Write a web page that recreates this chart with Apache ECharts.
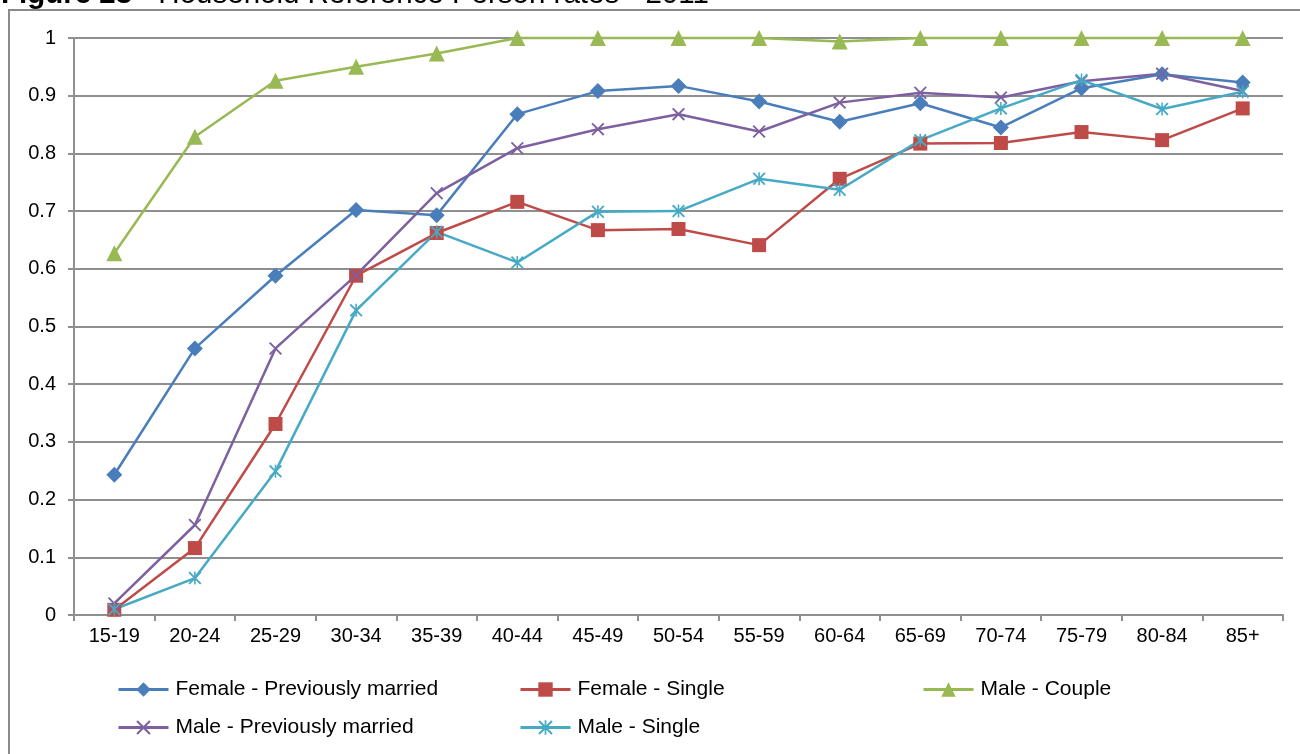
<!DOCTYPE html>
<html>
<head>
<meta charset="utf-8">
<script src="https://cdn.jsdelivr.net/npm/echarts@6/dist/echarts.min.js"></script>
<style>
  html, body { margin: 0; padding: 0; background: #fff; }
  #chart { width: 1300px; height: 754px; }
</style>
</head>
<body>
<div id="chart"></div>
<script>
// Age bands on the category axis
const ageBands = ['15-19','20-24','25-29','30-34','35-39','40-44','45-49','50-54','55-59','60-64','65-69','70-74','75-79','80-84','85+'];

// Household reference person rates by age band
const femalePrevMarried = [0.243, 0.462, 0.588, 0.702, 0.693, 0.868, 0.908, 0.917, 0.890, 0.855, 0.887, 0.845, 0.913, 0.937, 0.923];
const femaleSingle      = [0.009, 0.116, 0.331, 0.588, 0.662, 0.716, 0.667, 0.669, 0.641, 0.756, 0.817, 0.818, 0.837, 0.823, 0.878];
const maleCouple        = [0.627, 0.829, 0.926, 0.950, 0.973, 1.000, 1.000, 1.000, 1.000, 0.994, 1.000, 1.000, 1.000, 1.000, 1.000];
const malePrevMarried   = [0.020, 0.156, 0.462, 0.589, 0.731, 0.809, 0.842, 0.868, 0.838, 0.888, 0.905, 0.897, 0.925, 0.938, 0.908];
const maleSingle        = [0.010, 0.064, 0.249, 0.528, 0.664, 0.611, 0.699, 0.700, 0.756, 0.737, 0.823, 0.878, 0.927, 0.877, 0.907];

const seriesNames = ['Female - Previously married', 'Female - Single', 'Male - Couple', 'Male - Previously married', 'Male - Single'];

// Filled outlines for the cross and asterisk markers
const crossPath = 'path://M0,1 L1,0 L5,4 L9,0 L10,1 L6,5 L10,9 L9,10 L5,6 L1,10 L0,9 L4,5 Z';
const starPath = 'path://M0,1 L1,0 L5,4 L9,0 L10,1 L6,5 L10,9 L9,10 L5,6 L1,10 L0,9 L4,5 Z M4.4,0 L5.6,0 L5.6,10 L4.4,10 Z';

const FONT = '"Liberation Sans", Arial, sans-serif';
const GRID_GRAY = '#8f8f8f';

function lineSeries(name, data, color, symbol, size) {
  return {
    name: name,
    type: 'line',
    data: data,
    symbol: symbol,
    symbolSize: size,
    showAllSymbol: true,
    clip: false,
    lineStyle: { color: color, width: 2.5 },
    itemStyle: { color: color },
    emphasis: { disabled: true }
  };
}

function legendAt(name, left, top) {
  return {
    data: [name],
    left: left,
    top: top,
    padding: 0,
    itemWidth: 50,
    itemHeight: 18,
    itemGap: 0,
    selectedMode: false,
    lineStyle: { width: 3 },
    textStyle: { fontFamily: FONT, fontSize: 21, color: '#000', padding: [0, 0, 0, 2] }
  };
}

const chart = echarts.init(document.getElementById('chart'), null, { renderer: 'canvas' });

chart.setOption({
  animation: false,
  backgroundColor: '#fff',
  textStyle: { fontFamily: FONT },
  graphic: [
    {
      type: 'rect',
      shape: { x: 9, y: 10, width: 1400, height: 900 },
      style: { fill: 'none', stroke: '#8a8a8a', lineWidth: 2 },
      silent: true,
      z: -1
    },
    {
      type: 'text',
      x: 1,
      y: 10,
      style: {
        text: '{b|Figure 23} - Household Reference Person rates - 2011',
        verticalAlign: 'bottom',
        font: '29.5px ' + FONT,
        fill: '#000',
        rich: {
          b: { fontWeight: 'bold', fontSize: 29.5, fontFamily: FONT, fill: '#000' }
        }
      },
      silent: true
    }
  ],
  grid: { left: 74, right: 17, top: 38, bottom: 139, containLabel: false },
  xAxis: {
    type: 'category',
    data: ageBands,
    boundaryGap: true,
    axisLine: { show: true, lineStyle: { color: GRID_GRAY, width: 2 } },
    axisTick: { show: true, length: 6, lineStyle: { color: GRID_GRAY, width: 2 } },
    axisLabel: { fontFamily: FONT, fontSize: 20, color: '#000', margin: 11, interval: 0 },
    splitLine: { show: false }
  },
  yAxis: {
    type: 'value',
    min: 0,
    max: 1,
    interval: 0.1,
    axisLine: { show: true, lineStyle: { color: GRID_GRAY, width: 2 } },
    axisTick: { show: true, length: 6, lineStyle: { color: GRID_GRAY, width: 2 } },
    axisLabel: { fontFamily: FONT, fontSize: 20, color: '#000', margin: 18 },
    splitLine: { show: true, lineStyle: { color: GRID_GRAY, width: 2 } }
  },
  legend: [
    legendAt(seriesNames[0], 117, 679),
    legendAt(seriesNames[1], 519, 679),
    legendAt(seriesNames[2], 922, 679),
    legendAt(seriesNames[3], 117, 717),
    legendAt(seriesNames[4], 519, 717)
  ],
  series: [
    lineSeries(seriesNames[0], femalePrevMarried, '#4a7ebb', 'diamond', 16),
    lineSeries(seriesNames[1], femaleSingle, '#be4b48', 'rect', 14),
    lineSeries(seriesNames[2], maleCouple, '#98b954', 'triangle', 16),
    lineSeries(seriesNames[3], malePrevMarried, '#7d60a0', crossPath, 13),
    lineSeries(seriesNames[4], maleSingle, '#46aac5', starPath, 13)
  ]
});
</script>
</body>
</html>
